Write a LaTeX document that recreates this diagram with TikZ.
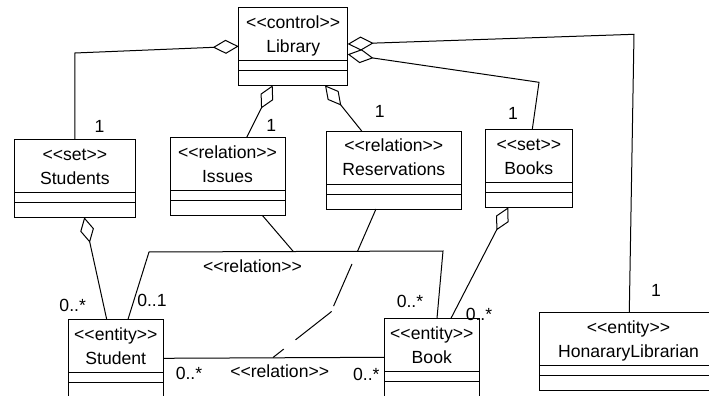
\documentclass[tikz,border=0pt]{standalone}
\usepackage{fontspec}
\setmainfont{Liberation Sans}
\usetikzlibrary{arrows.meta}

\begin{document}
\begin{tikzpicture}[x=0.5pt,y=-0.5pt,line width=0.5pt,font=\fontsize{8.8}{10.5}\selectfont,
  cls/.style={draw,anchor=north west,minimum height=39pt,inner sep=0pt,outer sep=0pt},
  agg/.style={{Diamond[open,length=13pt,width=7pt]}-}]
\clip (0,0) rectangle (709,396);
\foreach \n/\x/\y/\w/\st/\nm in {lib/238.7/7.3/109/control/Library,
    stus/14/139.3/121.7/set/Students, iss/170/137.3/115/relation/Issues,
    res/326/131/135.7/relation/Reservations, bks/485.3/129.3/87/set/Books,
    stu/68.3/319.3/95/entity/Student, bk/384.3/318.3/95/entity/Book,
    hl/539.3/312.3/178.4/entity/HonararyLibrarian}{
  \node[cls,minimum width=\w*0.5pt] (\n) at (\x,\y) {};
  \draw ([yshift=-26.5pt]\n.north west) -- ([yshift=-26.5pt]\n.north east)
        ([yshift=-31.5pt]\n.north west) -- ([yshift=-31.5pt]\n.north east);
  \node[anchor=base,inner sep=0pt] (\n-st) at ([yshift=-10.5pt]\n.north) {<{}<\st>{}>};
  \node[anchor=base,inner sep=0pt] (\n-nm) at ([yshift=-22.5pt]\n.north) {\nm};
}
\draw[agg] (lib.west) -- (stus.north |- 0,53) -- (stus.north);
\draw[agg] (lib.south -| 272.7,0) -- (iss.north -| 246.7,0);
\draw[agg] (lib.south -| 325,0) -- (res.north -| 361.7,0);
\draw[agg] (lib.east |- 0,54.3) -- (539,82.3) -- (bks.north -| 532.3,0);
\draw[agg] (lib.east |- 0,44) -- (634,34.3) -- (hl.north -| 629.3,0);
\draw[agg] (stus.south -| 84.3,0) -- (stu.north -| 106.7,0);
\draw[agg] (bks.south -| 508.3,0) -- (bk.north -| 451,0);
\draw (stu.north -| 128,0) -- (149,252) -- (443,251) -- (bk.north -| 437,0);
\draw (stu.east) -- (bk.west);
\coordinate (isslink) at (293.3,251.5);
\coordinate (reslink) at (273,357.5);
\draw (iss.south -| 262.3,0) -- (isslink);
\draw[dash pattern=on 23pt off 7pt on 23pt off 2.75pt on 23pt off 7.5pt on 10pt off 20pt]
  (res.south -| 376,0) -- (331,312) -- (reslink);
\foreach \p/\l [count=\i] in {{99.5,126.7}/1, {271.3,125}/1, {379.7,111.7}/1,
    {513,113.7}/1, {656,290}/1, {72.7,305}/0..*, {152,300}/0..1, {410,301.5}/0..*,
    {479,314}/0..*, {189,373.3}/0..*, {366.3,374}/0..*}
  \node (mult\i) at (\p) {\l};
\node (relup) at (252.5,266.5) {<{}<relation>{}>};
\node (rellow) at (279.7,371.5) {<{}<relation>{}>};
\end{tikzpicture}
\end{document}
